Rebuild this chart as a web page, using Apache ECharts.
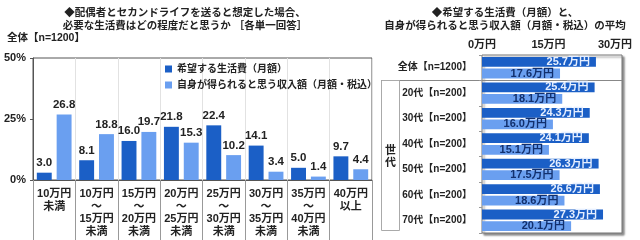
<!DOCTYPE html>
<html><head><meta charset="utf-8">
<script src="https://cdn.jsdelivr.net/npm/echarts@6/dist/echarts.min.js"></script>
<style>html,body{margin:0;padding:0;background:#fff}#c{width:640px;height:240px}</style>
</head><body><div id="c"></div>
<script>
// ---- left chart data ----
const distCategories = ['10万円\n未満','10万円\n～\n15万円\n未満','15万円\n～\n20万円\n未満','20万円\n～\n25万円\n未満','25万円\n～\n30万円\n未満','30万円\n～\n35万円\n未満','35万円\n～\n40万円\n未満','40万円\n以上'];
const distDesired = [3.0, 8.1, 16.0, 21.8, 22.4, 14.1, 5.0, 9.7];
const distIncome  = [26.8, 18.8, 19.7, 15.3, 10.2, 3.4, 1.4, 4.4];
const seriesNames = ['希望する生活費（月額）','自身が得られると思う収入額（月額・税込）'];
const leftTicks = [0, 25, 50];
// ---- right chart data ----
const avgCategories = ['全体【n=1200】','20代【n=200】','30代【n=200】','40代【n=200】','50代【n=200】','60代【n=200】','70代【n=200】'];
const avgDesired = [25.7, 25.4, 24.3, 24.1, 26.3, 26.6, 27.3];
const avgIncome  = [17.6, 18.1, 16.0, 15.1, 17.5, 18.6, 20.1];
const rightTicks = [0, 15, 30];

const FONT = '"Liberation Sans", "Noto Sans CJK JP", sans-serif';
const DARK = '#1b5fc6', LIGHT = '#6a9ff0', TXT = '#222';

const chart = echarts.init(document.getElementById('c'), null, {renderer:'canvas'});
chart.setOption({
  animation:false,
  textStyle:{fontFamily:FONT},
  legend:{
    data:seriesNames, orient:'vertical', left:160, top:59, itemGap:6,
    itemWidth:7, itemHeight:7, icon:'rect',
    textStyle:{fontSize:10, fontWeight:'bold', color:TXT, fontFamily:FONT}
  },
  grid:[
    {left:33, top:58, width:339, height:122, show:true, borderColor:'#555', borderWidth:1},
    {left:482, top:55, width:140, height:178, show:true, borderColor:'#777', borderWidth:1,
     backgroundColor:'#fff', shadowColor:'rgba(0,0,0,0.45)', shadowBlur:2, shadowOffsetX:2, shadowOffsetY:2}
  ],
  xAxis:[
    {gridIndex:0, type:'category', data:distCategories, boundaryGap:true,
     axisLine:{lineStyle:{color:'#555'}},
     axisTick:{show:true, interval:0, length:60, lineStyle:{color:'#999'}},
     splitLine:{show:true, interval:0, lineStyle:{color:'#e2e2e2'}},
     axisLabel:{interval:0, margin:8, fontSize:11, fontWeight:'bold', color:TXT, lineHeight:12.5, fontFamily:FONT}},
    {gridIndex:1, type:'value', position:'top', min:0, max:31.58, interval:15,
     axisLine:{show:false}, axisTick:{show:false}, splitLine:{show:false},
     axisLabel:{margin:5, fontSize:11, fontWeight:'bold', color:TXT, fontFamily:FONT,
       formatter:v=> rightTicks.indexOf(Math.round(v*100)/100)>=0 ? v+'万円' : ''}}
  ],
  yAxis:[
    {gridIndex:0, type:'value', min:leftTicks[0], max:leftTicks[2], interval:25,
     axisLine:{show:true, lineStyle:{color:'#555'}}, axisTick:{show:true, length:3, lineStyle:{color:'#555'}},
     splitLine:{show:false},
     axisLabel:{margin:7, fontSize:11, fontWeight:'bold', color:TXT, formatter:v=>v+'%', fontFamily:FONT}},
    {gridIndex:1, type:'category', data:avgCategories, inverse:true,
     axisLine:{show:false}, axisTick:{show:true, interval:0, length:3, lineStyle:{color:'#999'}},
     axisLabel:{margin:10, fontSize:10, fontWeight:'bold', color:TXT, fontFamily:FONT}}
  ],
  series:[
    {name:seriesNames[0], type:'bar', xAxisIndex:0, yAxisIndex:0, data:distDesired,
     itemStyle:{color:DARK}, barGap:'33%', barCategoryGap:'18%',
     label:{show:true, position:'top', distance:4, fontSize:11.5, fontWeight:'bold', color:TXT, fontFamily:FONT,
       formatter:p=>p.value.toFixed(1)}},
    {name:seriesNames[1], type:'bar', xAxisIndex:0, yAxisIndex:0, data:distIncome,
     itemStyle:{color:LIGHT}, barGap:'33%', barCategoryGap:'18%',
     label:{show:true, position:'top', distance:4, fontSize:11.5, fontWeight:'bold', color:TXT, fontFamily:FONT,
       formatter:p=>p.value.toFixed(1)}},
    {name:'avgDesired', type:'bar', xAxisIndex:1, yAxisIndex:1, data:avgDesired,
     itemStyle:{color:DARK}, barGap:'18%', barCategoryGap:'16%',
     label:{show:true, position:'insideRight', distance:6, fontSize:11, fontWeight:'bold', color:'#e6efff', fontFamily:FONT,
       formatter:p=>p.value.toFixed(1)+'万円'}},
    {name:'avgIncome', type:'bar', xAxisIndex:1, yAxisIndex:1, data:avgIncome,
     itemStyle:{color:LIGHT}, barGap:'18%', barCategoryGap:'16%',
     label:{show:true, position:'insideRight', distance:6, fontSize:11, fontWeight:'bold', color:'#12306e', fontFamily:FONT,
       formatter:p=>p.value.toFixed(1)+'万円'}}
  ],
  graphic:[
    {type:'text', x:185, y:7, style:{text:'◆配偶者とセカンドライフを送ると想定した場合、\n必要な生活費はどの程度だと思うか ［各単一回答］',
      align:'center', lineHeight:13, fill:TXT, font:'bold 10.5px '+FONT}},
    {type:'text', x:7, y:33, style:{text:'全体【n=1200】', fill:TXT, font:'bold 10.5px '+FONT}},
    {type:'text', x:505, y:7, style:{text:'◆希望する生活費（月額）と、\n自身が得られると思う収入額（月額・税込）の平均',
      align:'center', lineHeight:13, fill:TXT, font:'bold 10.5px '+FONT}},
    {type:'line', shape:{x1:381, y1:80.5, x2:622, y2:80.5}, style:{stroke:'#888', lineWidth:1}},
    {type:'rect', shape:{x:381.5, y:80.5, width:18, height:150}, style:{fill:'none', stroke:'#aaa', lineWidth:1}},
    {type:'text', x:390.5, y:157, style:{text:'世\n代', align:'center', verticalAlign:'middle', lineHeight:12, fill:TXT, font:'bold 11px '+FONT}}
  ]
});
</script></body></html>
